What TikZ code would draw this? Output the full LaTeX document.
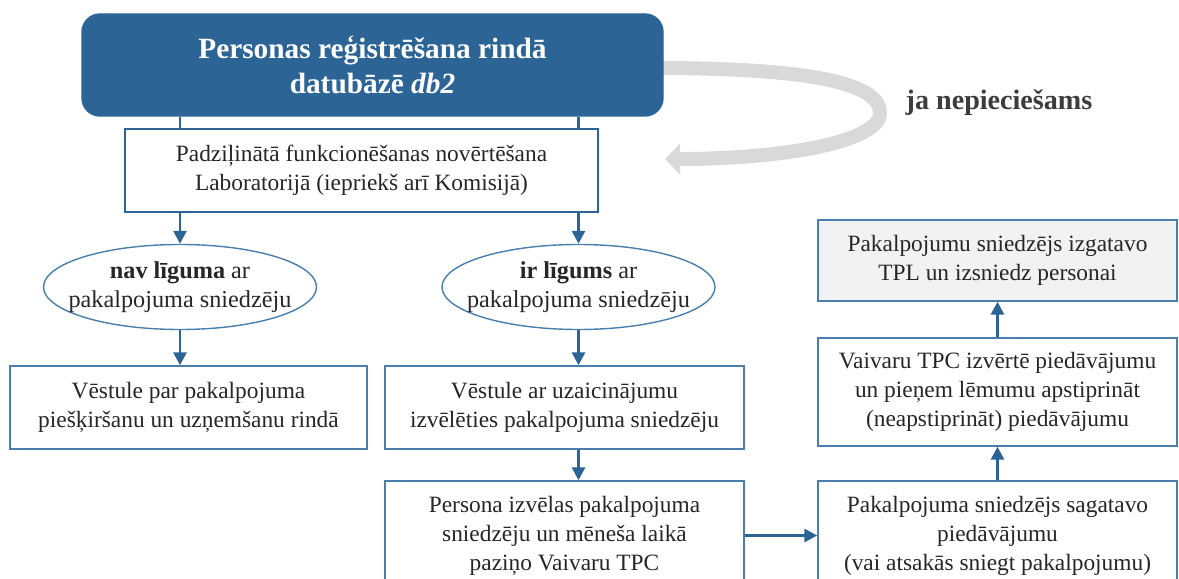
\documentclass[tikz,border=0pt]{standalone}
\usepackage{fontspec}
\setmainfont{Liberation Serif}
\usetikzlibrary{arrows.meta, positioning, shapes.geometric}
\definecolor{cblue}{HTML}{2C6496}
\definecolor{cedge}{HTML}{4A7EAD}
\definecolor{cloop}{HTML}{D9D9D9}
\definecolor{ctext}{HTML}{262626}
\definecolor{cfill}{HTML}{F2F2F2}
\tikzset{
  every picture/.style={line width=0.8pt},
  box/.style={draw=cedge, fill=#1, align=center, text=ctext, inner sep=4pt,
              font=\fontsize{13.3}{16.5}\selectfont, minimum width=7.18cm, minimum height=1.66cm},
  box/.default=white,
  headbox/.style={fill=cblue, draw=cblue, rounded corners=0.36cm, text=white, align=center,
                  font=\fontsize{16.7}{20}\selectfont\bfseries, minimum width=11.62cm, minimum height=2.04cm},
  choice/.style={ellipse, draw=cedge, align=center, text=ctext, inner xsep=-0.3cm, inner ysep=0pt,
                 font=\fontsize{13.8}{16.5}\selectfont, minimum width=5.46cm, minimum height=1.7cm},
  link/.style={draw=cblue, line width=1.6pt},
  flow/.style={link, -{Triangle[length=2.6mm, width=2.6mm]}},
  loop/.style={draw=cloop, line width=2.8mm, -{Triangle[length=3mm, width=6mm]}},
  note/.style={font=\fontsize{16}{19}\selectfont\bfseries, text=ctext!90},
}

\begin{document}
\begin{tikzpicture}
  \useasboundingbox (0,0) rectangle (23.58,-11.58);
  \clip (0,0) rectangle (23.58,-11.58);

  % grey loop behind the head box
  \coordinate (loopend) at (13.3,-3.18);
  \coordinate (headright) at (13.1,-1.36);
  \draw[loop] (headright) .. controls (16.6,-1.36) and (17.6,-1.75) .. (17.6,-2.26)
              .. controls (17.6,-2.85) and (15.6,-3.18) .. (loopend);
  \node[note] (need) at (19.98,-2.06) {ja nepiecie\v{s}ams};

  \node[headbox] (reg) at (7.45,-1.3) {Personas reģistrēšana rindā\\datubāzē \textit{db2}};
  \node[box, draw=cblue, line width=1.4pt, minimum width=9.46cm] (eval) at (7.23,-3.41)
       {Padziļinātā funkcionēšanas novērtēšana\\Laboratorijā (iepriekš arī Komisijā)};

  \node[choice] (nocontract) at (3.6,-5.74) {\textbf{nav līguma} ar\\pakalpojuma sniedzēju};
  \node[choice] (contract) at (11.57,-5.74) {\textbf{ir līgums} ar\\pakalpojuma sniedzēju};

  \node[box, minimum width=7.14cm] (queue) at (3.77,-8.15)
       {Vēstule par pakalpojuma\\piešķiršanu un uzņemšanu rindā};
  \node[box] (invite) at (11.29,-8.15)
       {Vēstule ar uzaicinājumu\\izvēlēties pakalpojuma sniedzēju};
  \node[box, minimum height=2.18cm] (choose) at (11.29,-10.71)
       {Persona izvēlas pakalpojuma\\sniedzēju un mēneša laikā\\paziņo Vaivaru TPC};
  \node[box, minimum height=2.18cm] (offer) at (19.95,-10.71)
       {Pakalpojuma sniedzējs sagatavo\\piedāvājumu\\(vai atsakās sniegt pakalpojumu)};
  \node[box, minimum height=2.16cm] (decide) at (19.95,-7.84)
       {Vaivaru TPC izvērtē piedāvājumu\\un pieņem lēmumu apstiprināt\\(neapstiprināt) piedāvājumu};
  \node[box=cfill, minimum height=1.62cm] (tpl) at (19.95,-5.21)
       {Pakalpojumu sniedzējs izgatavo\\TPL un izsniedz personai};

  % connectors
  \draw[link] (reg.south -| nocontract.north) -- (eval.north -| nocontract.north);
  \draw[link] (reg.south -| contract.north) -- (eval.north -| contract.north);
  \draw[flow] (eval.south -| nocontract.north) -- (nocontract.north);
  \draw[flow] (eval.south -| contract.north) -- (contract.north);
  \draw[flow] (nocontract.south) -- (nocontract.south |- queue.north);
  \draw[flow] (contract.south) -- (contract.south |- invite.north);
  \draw[flow] (contract.south |- invite.south) -- (contract.south |- choose.north);
  \draw[flow] (choose.east) -- (offer.west);
  \draw[flow] (offer.north) -- (decide.south);
  \draw[flow] (decide.north) -- (tpl.south);
\end{tikzpicture}
\end{document}
